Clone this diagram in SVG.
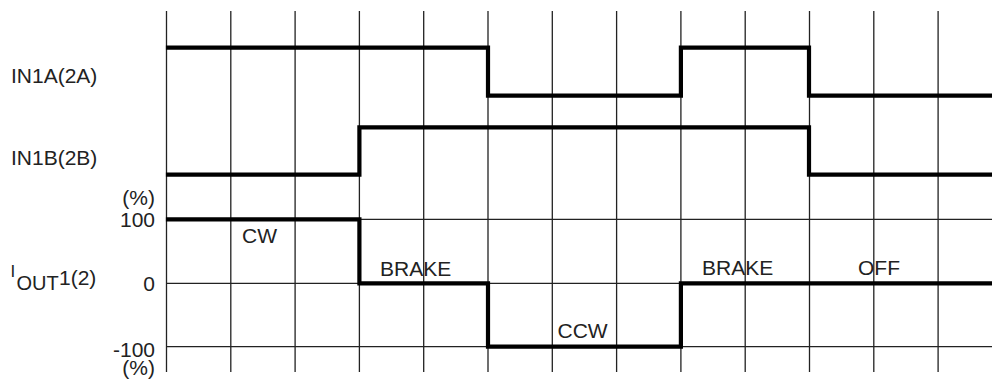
<svg xmlns="http://www.w3.org/2000/svg" width="992" height="379" viewBox="0 0 992 379">
<style>
.grid{stroke:#222;stroke-width:1.3;fill:none}
.sig{stroke:#000;stroke-width:4.2;fill:none;stroke-linejoin:miter;stroke-linecap:square}
text{font-family:"Liberation Sans",Arial,sans-serif;font-size:21px;fill:#222}
.r{text-anchor:end}
</style>
<rect width="992" height="379" fill="#fff"/>
<g id="grid">
<path class="grid" d="M166.5 11V372M230.8 11V372M295.1 11V372M359.4 11V372M423.7 11V372M488 11V372M552.3 11V372M616.6 11V372M680.9 11V372M745.2 11V372M809.5 11V372M873.8 11V372M938.1 11V372"/>
<path class="grid" d="M166.5 219.3H992M166.5 283.3H992M166.5 346.7H992"/>
</g>
<g id="connectors">
<path id="in1a" class="sig" d="M168 47.7H488V95.7H680.9V47.7H809V95.7H994"/>
<path id="in1b" class="sig" d="M168 174.7H359.4V127.3H809V174.7H994"/>
<path id="iout" class="sig" d="M168 219.3H359.4V283.3H488V346.7H680.9V283.3H994"/>
</g>
<g id="labels">
<text x="10.5" y="277" style="font-size:17px">I</text>
<text x="16.5" y="290" style="font-size:20px">OUT</text>
<text x="59" y="285">1(2)</text>
<text x="11" y="83">IN1A(2A)</text>
<text x="11" y="165">IN1B(2B)</text>
<text class="r" x="155" y="205">(%)</text>
<text class="r" x="155" y="227">100</text>
<text class="r" x="155" y="291">0</text>
<text class="r" x="155" y="357">-100</text>
<text class="r" x="155" y="375">(%)</text>
<text x="242" y="243">CW</text>
<text x="380" y="276">BRAKE</text>
<text x="557.5" y="338">CCW</text>
<text x="702" y="275">BRAKE</text>
<text x="858" y="275">OFF</text>
</g>
</svg>
